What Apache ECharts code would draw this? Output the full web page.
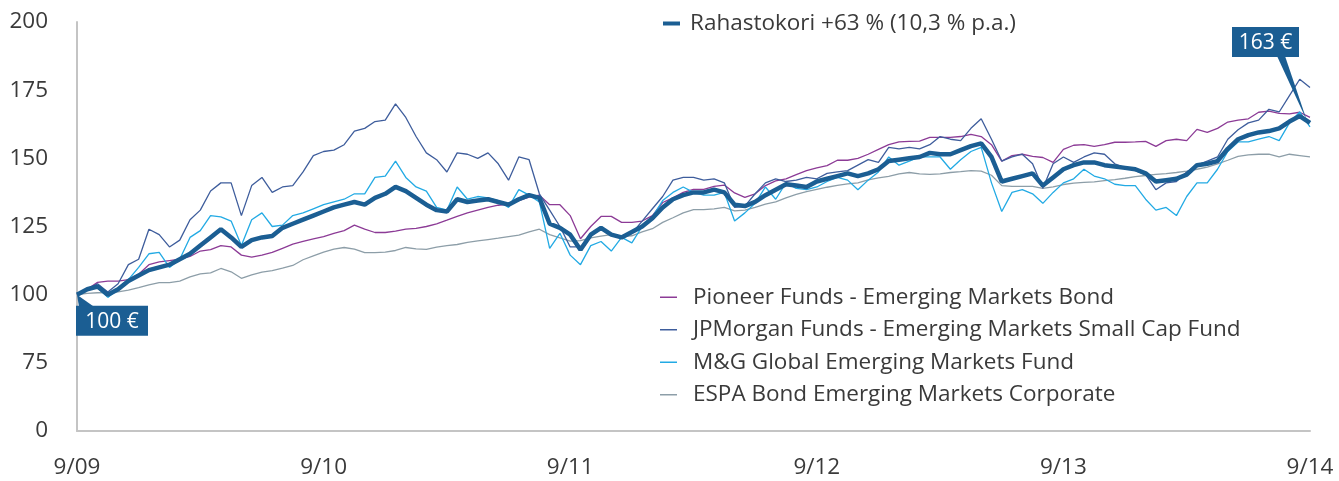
<!DOCTYPE html>
<html>
<head>
<meta charset="utf-8">
<script src="https://cdn.jsdelivr.net/npm/echarts@6/dist/echarts.min.js"></script>
<style>
html,body{margin:0;padding:0;background:#fff;}
#c{width:1339px;height:481px;}
</style>
</head>
<body>
<div id="c"></div>
<script>
// ---- Data (half-monthly, 9/2009 .. 9/2014) ----
const xTickLabels = ['9/09', '9/10', '9/11', '9/12', '9/13', '9/14'];
const yTickLabels = {50: '0'};

const seriesNames = [
  'Rahastokori +63 % (10,3 % p.a.)',
  'Pioneer Funds - Emerging Markets Bond',
  'JPMorgan Funds - Emerging Markets Small Cap Fund',
  'M&G Global Emerging Markets Fund',
  'ESPA Bond Emerging Markets Corporate'
];

const rahastokori = [
100,102,103,100,102,105,107,109,110,111,113,115,118,121,124,121,117.5,120,121,121.5,
124.5,126,127.5,129,130.5,132,133,134,133,135.5,137,139.5,138,135.5,133,131,130.5,135,134,134.5,
135,134,133,135,136.5,135.5,126,124.5,122,116.5,122,124.5,122,121,123,125,128,132,135,136.5,
137.5,137.5,138.5,137.5,133,132.5,134,136.5,138.5,140.5,140,139.5,141.5,142.5,143.5,144.5,143.5,144.5,146,149,
149.5,150,150.5,152,151.5,151.5,153,154.5,155.5,150.5,141.5,142.5,143.5,144.5,140,143,146,147.5,148.5,148.5,
147.5,147,146.5,146,144.5,141.5,142,142.5,144,147.5,148,149,153.5,157,158.5,159.5,160,161,163.5,165.5,
163];

const pioneer = [
100,102,104.5,105,105,105.5,107.5,111,112,112.5,113,114,116,116.5,118,117.5,114.5,113.8,114.5,115.5,
117,118.5,119.5,120.5,121.3,122.5,123.5,125.5,124,122.8,122.8,123.3,124,124.3,125,126,127.3,128.7,130,131,
132,132.8,133.2,134.5,135.8,136.5,133,133,129,120.5,125,128.7,128.7,126.5,126.5,127,129,133.8,135.5,137.5,
138.6,138.6,139.7,140.2,137.3,135.7,137,140,141.7,142.5,144,145.5,146.5,147.3,149.3,149.3,150,151.5,153.3,155,
156,156.2,156.3,157.7,157.7,157.7,158,158.8,158,155,149,151,151.5,150.7,150.3,148.5,153.3,154.8,155,154.4,
155,155.9,155.9,156,156.2,154.4,156.5,157,156.5,160.6,159.5,161,163.3,164,164.5,166.9,167.3,166.5,166.3,166.9,
165];

const jpmorgan = [
100,102,104,101,104,111,113,124,122,117.5,120,127.5,131,138,141,141,129,140,143,137.5,
139.5,140,145,151,152.5,153,155,160,161,163.5,164,170,165,158,152,149.5,145,152,151.5,150,
152,148,142,150.5,149.5,137,131,125,117.5,117.5,121.5,124,122,121.5,122.5,127,131.5,136,142,143,
143,142,142.5,141,132,132.5,137,141,142.5,141.5,142,143,142.5,144.5,145,145.5,147.5,149.5,148.5,154,
153.5,154,153.5,155,158,157,156.5,161,164.5,157,149,150.5,151.5,148,139,148,150.5,148.5,150.5,152,
151.5,148,146.5,145.5,144,138.5,141,141.5,145,147.5,149,150.5,157,160.5,163,164,168,167,173,179,
176];

const mg = [
100,102,102.5,99,102,105.5,110,115,115.5,110,113,121,123.5,129,128.5,127,118,127.5,130,125,
125.5,129,130,131.5,133,134,135,137,137,143,143.5,149,143,139.5,138,132,131,139.5,135,136,
135.5,134.5,132,138.5,136.5,134,117,122.5,114.5,111,118,119.5,116,121,119,125,128.5,134.5,137.5,139.5,
137.5,136.5,136.5,137.5,127,130,133.5,139.5,135,141,139,138.5,139.5,141.5,143,142,138.5,142,145,150.5,
147.5,149,150.5,150.5,150.5,146,149.5,152.5,154,141,130.5,137.5,138.5,137,133.5,137.5,141,142.5,146,143.5,
142.5,140.5,140,140,135,131,132,129,136,141,141,146,152.5,156,156,157,158,156.5,163,167,
161.5];

const espa = [
100,100.5,100.7,100.8,101,101.7,102.6,103.6,104.4,104.4,105,106.5,107.6,108,109.6,108.4,106,107.3,108.3,108.8,
109.7,110.7,112.8,114.2,115.6,116.7,117.3,116.7,115.4,115.4,115.6,116.2,117.3,116.8,116.6,117.4,118,118.4,119.2,119.7,
120.2,120.7,121.3,121.8,123,124,122,120.8,119.6,119.8,120.8,121.5,122,121.3,121.6,123,124.2,126.5,128.2,130,
131.2,131.2,131.5,132,130.7,131,132,133.2,134,135.5,136.8,137.8,138.6,139.4,140.1,140.6,141,142.1,142.8,143.4,
144.3,144.8,144.3,144.1,144.3,144.8,145.1,145.5,145.3,143.8,140,139.7,139.7,139.7,139,139.5,140.4,140.9,141.2,141.4,
141.8,142.2,142.7,143.3,143.7,144.1,144.4,144.8,145.3,146,146.8,148,149.3,150.7,151.3,151.5,151.5,150.5,151.5,151,
150.5];

const startLabel = '100 €';
const endLabel = '163 €';

// ---- Build periods (half-month steps) ----
const periods = [];
for (let i = 0; i < rahastokori.length; i++) {
  const m = 9 + Math.floor(i / 2);
  const yr = 2009 + Math.floor((m - 1) / 12);
  const mon = ((m - 1) % 12) + 1;
  periods.push(yr + '-' + (mon < 10 ? '0' : '') + mon + (i % 2 ? '-15' : '-01'));
}

const FONT = '"Open Sans"';
const FS = 22.5;
const TXT = '#3a3a3a';
const colors = {
  rahasto: '#1b5e93',
  pioneer: '#8c3b96',
  jpm: '#3e5d9c',
  mg: '#22aae4',
  espa: '#8d9ea8'
};

const chart = echarts.init(document.getElementById('c'), null, {renderer: 'canvas'});

function thin(name, data, color) {
  return {
    name: name, type: 'line', data: data, symbol: 'none', smooth: false,
    lineStyle: {color: color, width: 1.3}, itemStyle: {color: color},
    emphasis: {disabled: true}, animation: false
  };
}

chart.setOption({
  animation: false,
  grid: {left: 77, right: 29, top: 22, bottom: 50, containLabel: false},
  legend: [
    {
      data: [seriesNames[0]],
      left: 658, top: 7,
      icon: 'rect', itemWidth: 17, itemHeight: 4,
      textStyle: {fontFamily: FONT, fontSize: FS, color: TXT, padding: [0, 0, 0, 5]},
      selectedMode: false
    },
    {
      data: seriesNames.slice(1),
      orient: 'vertical',
      left: 655, top: 280,
      icon: 'rect', itemWidth: 17, itemHeight: 1.5,
      itemGap: 8,
      textStyle: {fontFamily: FONT, fontSize: FS, color: TXT, lineHeight: 24.5, padding: [0, 0, 0, 11]},
      selectedMode: false
    }
  ],
  xAxis: {
    type: 'category', data: periods, boundaryGap: false,
    axisLine: {show: true, lineStyle: {color: '#c4c4c4', width: 2}},
    axisTick: {show: false},
    splitLine: {show: false},
    axisLabel: {
      interval: function (idx) { return idx % 24 === 0; },
      formatter: function (v, idx) { return xTickLabels[idx / 24]; },
      fontFamily: FONT, fontSize: FS, color: TXT, margin: 25,
      showMaxLabel: true, showMinLabel: true
    }
  },
  yAxis: {
    type: 'value', min: 50, max: 200, interval: 25,
    axisLine: {show: true, lineStyle: {color: '#c4c4c4', width: 2}},
    axisTick: {show: false},
    splitLine: {show: false},
    axisLabel: {
      formatter: function (v) { return yTickLabels[v] !== undefined ? yTickLabels[v] : String(v); },
      fontFamily: FONT, fontSize: FS, color: TXT, margin: 29
    }
  },
  series: [
    thin(seriesNames[4], espa, colors.espa),
    thin(seriesNames[1], pioneer, colors.pioneer),
    thin(seriesNames[2], jpmorgan, colors.jpm),
    thin(seriesNames[3], mg, colors.mg),
    {
      name: seriesNames[0], type: 'line', data: rahastokori, symbol: 'none',
      lineStyle: {color: colors.rahasto, width: 4.5}, itemStyle: {color: colors.rahasto},
      emphasis: {disabled: true}, z: 5
    }
  ]
});

// ---- Value callouts anchored through the chart's own scales ----
const n = rahastokori.length - 1;
const p0 = chart.convertToPixel({seriesIndex: 4}, [0, rahastokori[0]]);
const p1 = chart.convertToPixel({seriesIndex: 4}, [n, rahastokori[n]]);

const b0 = {x: p0[0] - 1, y: p0[1] + 11, w: 72, h: 30};
const b1 = {x: p1[0] - 78, y: p1[1] - 96, w: 67, h: 30};

chart.setOption({
  graphic: [
    {type: 'polygon', shape: {points: [[p0[0], p0[1]], [b0.x + 3, b0.y + 1], [b0.x + 18, b0.y + 1]]},
     style: {fill: colors.rahasto}, z: 100},
    {type: 'rect', shape: {x: b0.x, y: b0.y, width: b0.w, height: b0.h}, style: {fill: colors.rahasto}, z: 100},
    {type: 'text', x: b0.x + b0.w / 2, y: b0.y + b0.h / 2 + 1,
     style: {text: startLabel, fill: '#fff', font: '21px ' + FONT, align: 'center', verticalAlign: 'middle'}, z: 101},
    {type: 'polygon', shape: {points: [[b1.x + 45, b1.y + b1.h - 1], [b1.x + 53, b1.y + b1.h - 1], [p1[0] - 3, p1[1] - 2]]},
     style: {fill: colors.rahasto}, z: 100},
    {type: 'rect', shape: {x: b1.x, y: b1.y, width: b1.w, height: b1.h}, style: {fill: colors.rahasto}, z: 100},
    {type: 'text', x: b1.x + b1.w / 2, y: b1.y + b1.h / 2 + 1,
     style: {text: endLabel, fill: '#fff', font: '21px ' + FONT, align: 'center', verticalAlign: 'middle'}, z: 101}
  ]
});
</script>
</body>
</html>
